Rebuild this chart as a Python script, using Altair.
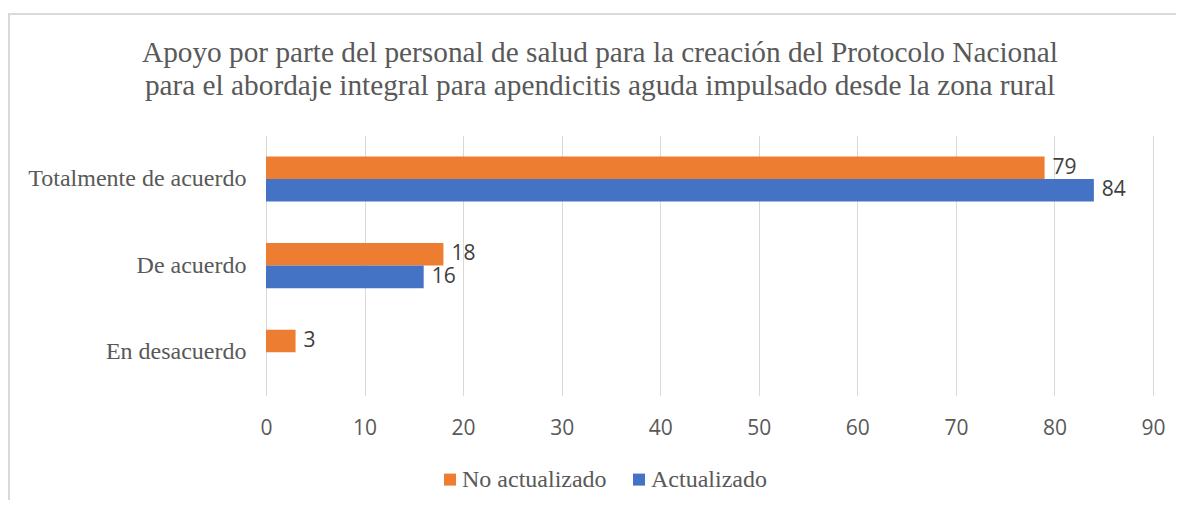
import altair as alt
import pandas as pd

categories = ["Totalmente de acuerdo", "De acuerdo", "En desacuerdo"]
series = ["No actualizado", "Actualizado"]
no_actualizado = [79, 18, 3]
actualizado = [84, 16, 0]
x_ticks = [0, 10, 20, 30, 40, 50, 60, 70, 80, 90]
colors = ["#ED7D31", "#4472C4"]
title_lines = [
    "Apoyo por parte del personal de salud para la creación del Protocolo Nacional",
    "para el abordaje integral para apendicitis aguda impulsado desde la zona rural",
]

rows = []
for c, a, b in zip(categories, no_actualizado, actualizado):
    rows.append({"cat": c, "serie": series[0], "valor": a})
    rows.append({"cat": c, "serie": series[1], "valor": b})
df = pd.DataFrame(rows)

SERIF = "Liberation Serif"
SANS = "Open Sans"
GREY = "#595959"

W, H = 887, 260
PL, PT = 258, 127.6

y = alt.Y(
    "cat:N", sort=categories, title=None,
    scale=alt.Scale(paddingInner=0.48, paddingOuter=0.24),
    axis=alt.Axis(labelFont=SERIF, labelFontSize=24, labelColor=GREY,
                  labelPadding=20, ticks=False, domain=False, labelLimit=400),
)
yoff = alt.YOffset("serie:N", sort=series)
x = alt.X(
    "valor:Q", title=None,
    scale=alt.Scale(domain=[0, 90], nice=False),
    axis=alt.Axis(values=x_ticks, grid=True, gridColor="#D9D9D9", gridWidth=1,
                  ticks=False, domain=False, labelFont=SANS, labelFontSize=21,
                  labelColor=GREY, labelPadding=22, labelFlush=False),
)

bars = alt.Chart(df).mark_bar().encode(
    x=x, y=y, yOffset=yoff,
    color=alt.Color(
        "serie:N", sort=series,
        scale=alt.Scale(domain=series, range=colors),
        legend=alt.Legend(
            orient="none", legendX=172, legendY=332, direction="horizontal",
            title=None, symbolType="square", symbolSize=144, symbolStrokeWidth=0,
            labelFont=SERIF, labelFontSize=24, labelColor=GREY,
            columnPadding=20, labelOffset=0, padding=0,
        ),
    ),
)

labels = alt.Chart(df).transform_filter("datum.valor > 0").mark_text(
    align="left", baseline="middle", dx=8, font=SANS, fontSize=21, color="#404040"
).encode(x=x, y=y, yOffset=yoff, text="valor:Q")

one = pd.DataFrame({"d": [0]})
border_v = alt.Chart(one).mark_rule(color="#D9D9D9", strokeWidth=2).encode(
    x=alt.value(-257), y=alt.value(-121.6), y2=alt.value(400)
)
border_h = alt.Chart(one).mark_rule(color="#D9D9D9", strokeWidth=2).encode(
    x=alt.value(-258), x2=alt.value(940), y=alt.value(-121.6)
)
title = alt.Chart(one).mark_text(
    text=title_lines, font=SERIF, fontSize=29.3, color=GREY, lineHeight=33,
    align="center", baseline="alphabetic",
).encode(x=alt.value(334), y=alt.value(-74))

chart = alt.layer(border_v, border_h, title, bars, labels).properties(
    width=W, height=H,
    autosize=alt.AutoSizeParams(type="none"),
    padding={"left": PL, "top": PT, "right": 1168 - PL - W, "bottom": 492 - PT - H},
).configure_view(stroke=None)

chart.save("out.html", embed_options={"renderer": "svg", "actions": False})
